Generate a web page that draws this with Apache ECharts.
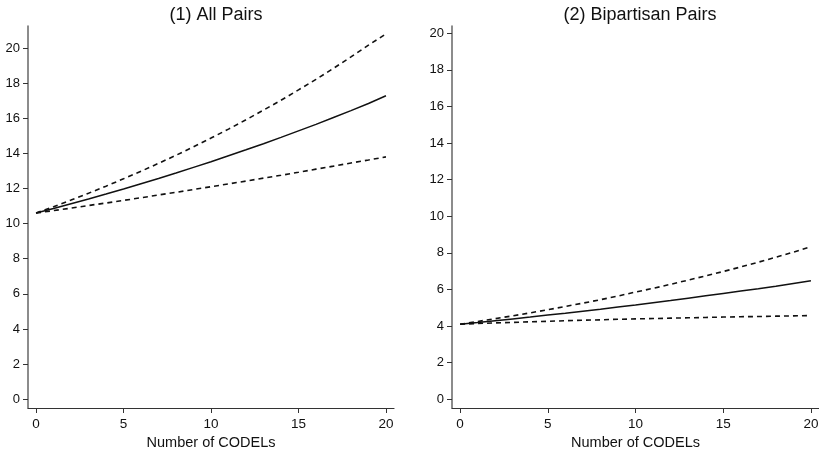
<!DOCTYPE html>
<html><head><meta charset="utf-8">
<script src="https://cdn.jsdelivr.net/npm/echarts@6/dist/echarts.min.js"></script>
<style>html,body{margin:0;padding:0;background:#fff}#c{width:819px;height:454px}</style>
</head><body><div id="c"></div>
<script>
const xValues = [0,1,2,3,4,5,6,7,8,9,10,11,12,13,14,15,16,17,18,19,20];
// Panel 1: All Pairs
const allEst   = [10.6,10.86,11.13,11.40,11.68,11.97,12.27,12.57,12.88,13.20,13.52,13.86,14.20,14.55,14.91,15.28,15.65,16.04,16.43,16.84,17.28];
const allUpper = [10.6,10.96,11.34,11.73,12.13,12.55,12.98,13.43,13.89,14.37,14.87,15.38,15.91,16.46,17.02,17.61,18.21,18.84,19.49,20.16,20.8];
const allLower = [10.6,10.74,10.88,11.03,11.17,11.32,11.47,11.63,11.78,11.94,12.10,12.26,12.42,12.59,12.75,12.92,13.10,13.27,13.45,13.62,13.8];
// Panel 2: Bipartisan Pairs
const biEst   = [4.1,4.19,4.29,4.39,4.49,4.60,4.70,4.81,4.92,5.04,5.15,5.27,5.39,5.52,5.65,5.78,5.91,6.04,6.18,6.33,6.47];
const biUpper = [4.1,4.25,4.40,4.56,4.72,4.89,5.07,5.25,5.44,5.64,5.86,6.06,6.28,6.51,6.74,6.98,7.23,7.49,7.76,8.04,8.34];
const biLower = [4.1,4.14,4.17,4.20,4.23,4.26,4.29,4.32,4.34,4.37,4.39,4.41,4.43,4.45,4.47,4.49,4.51,4.52,4.54,4.555,4.57];
const titles = ["(1) All Pairs","(2) Bipartisan Pairs"];
const xTicks = [0,5,10,15,20];
const yTicks = [0,2,4,6,8,10,12,14,16,18,20];
const xName = "Number of CODELs";

const FONT = "Liberation Sans, Arial, sans-serif";
const axisCol = "#666";
const pair = (xs, ys) => xs.map((x,i)=>[x, ys[i]]);

function xAxis(idx){
  return {gridIndex: idx, type:'value', min:-0.46, max:20.46,
    name: xName, nameLocation:'middle', nameGap:27,
    nameTextStyle:{fontFamily:FONT,fontSize:14.5,color:'#111'},
    axisLine:{show:true,onZero:false,lineStyle:{color:'#333',width:1.2}},
    axisTick:{show:true,length:5,customValues:xTicks,lineStyle:{color:'#333'}},
    axisLabel:{customValues:xTicks,fontFamily:FONT,fontSize:13.5,color:'#111',margin:9},
    splitLine:{show:false}};
}
function yAxis(idx,min,max){
  return {gridIndex: idx, type:'value', min:min, max:max,
    axisLine:{show:true,onZero:false,lineStyle:{color:axisCol,width:1.5}},
    axisTick:{show:true,length:5,customValues:yTicks,lineStyle:{color:'#333'}},
    axisLabel:{customValues:yTicks,fontFamily:FONT,fontSize:13,color:'#111',margin:8},
    splitLine:{show:false}};
}
function line(idx,data,dashed){
  return {type:'line', xAxisIndex:idx, yAxisIndex:idx, data:data, showSymbol:false, smooth:false,
    lineStyle:{color:'#111', width:dashed?1.6:1.5, type: dashed?[5,4]:'solid'}, animation:false, silent:true};
}
const chart = echarts.init(document.getElementById('c'), null, {renderer:'canvas'});
chart.setOption({
  backgroundColor:'#fff',
  animation:false,
  title:[
    {text:titles[0], left:211, top:1, textAlign:'center', textStyle:{fontFamily:FONT,fontSize:18,fontWeight:'normal',color:'#111'}},
    {text:titles[1], left:635, top:1, textAlign:'center', textStyle:{fontFamily:FONT,fontSize:18,fontWeight:'normal',color:'#111'}}
  ],
  grid:[
    {left:28, top:26, width:366, height:382, containLabel:false, outerBoundsMode:'none'},
    {left:452, top:26, width:367, height:382, containLabel:false, outerBoundsMode:'none'}
  ],
  xAxis:[xAxis(0), xAxis(1)],
  yAxis:[yAxis(0,-0.5,21.25), yAxis(1,-0.48,20.4)],
  series:[
    line(0,pair(xValues,allUpper),true),
    line(0,pair(xValues,allLower),true),
    line(0,pair(xValues,allEst),false),
    line(1,pair(xValues,biUpper),true),
    line(1,pair(xValues,biLower),true),
    line(1,pair(xValues,biEst),false)
  ]
});
</script></body></html>
